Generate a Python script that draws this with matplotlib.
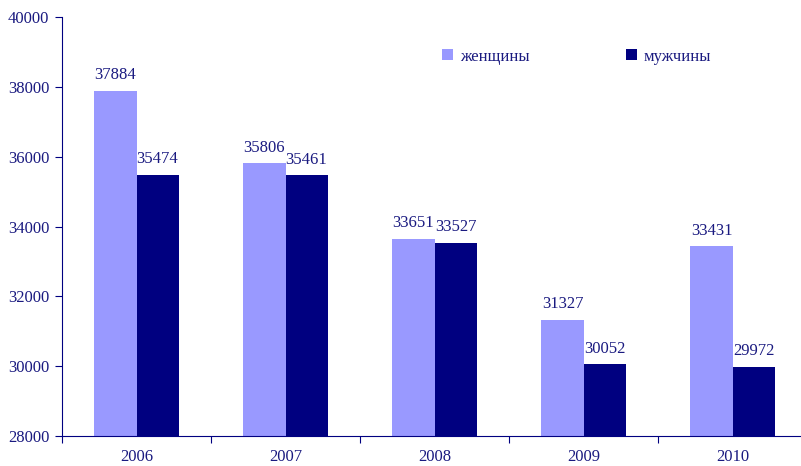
import numpy as np
import matplotlib.pyplot as plt

years = ["2006", "2007", "2008", "2009", "2010"]
women = [37884, 35806, 33651, 31327, 33431]
men = [35474, 35461, 33527, 30052, 29972]

navy = "#000080"
light = "#9999ff"
txt = "#1a1a80"

plt.rcParams['font.family'] = ['Liberation Serif', 'DejaVu Serif']

fig = plt.figure(figsize=(8.01, 4.66), dpi=100)
ax = fig.add_axes([62 / 801, 30 / 466, 745 / 801, 419 / 466])

x = np.arange(len(years))
w = 0.282
b1 = ax.bar(x - w / 2, women, w, color=light, label="женщины")
b2 = ax.bar(x + w / 2, men, w, color=navy, label="мужчины")

for bars in (b1, b2):
    for r in bars:
        ax.text(r.get_x() + r.get_width() / 2, r.get_height() + 220,
                str(int(r.get_height())), ha="center", va="bottom",
                fontsize=12, color=txt)

ax.set_ylim(28000, 40000)
ax.set_yticks(np.arange(28000, 40001, 2000))
ax.set_xlim(-0.5, len(years) - 0.5)
ax.set_xticks(np.arange(-0.5, len(years), 1.0))
ax.set_xticklabels([])
ax.set_xticks(x, minor=True)
ax.set_xticklabels(years, minor=True)
ax.tick_params(axis="x", which="minor", length=0, pad=9.5, labelsize=12, labelcolor=txt)
ax.tick_params(axis="x", which="major", length=5, color=navy)
ax.tick_params(axis="y", length=5, color=navy, labelsize=12, labelcolor=txt, pad=4)

for s in ["top", "right"]:
    ax.spines[s].set_visible(False)
for s in ["left", "bottom"]:
    ax.spines[s].set_color(navy)

ax.legend(loc="upper left", bbox_to_anchor=(0.49, 0.96), ncol=2, frameon=False,
          handlelength=0.65, handleheight=0.65, handletextpad=0.4, columnspacing=5.8,
          fontsize=12, labelcolor=txt)

fig.savefig("out.png", dpi=100)
